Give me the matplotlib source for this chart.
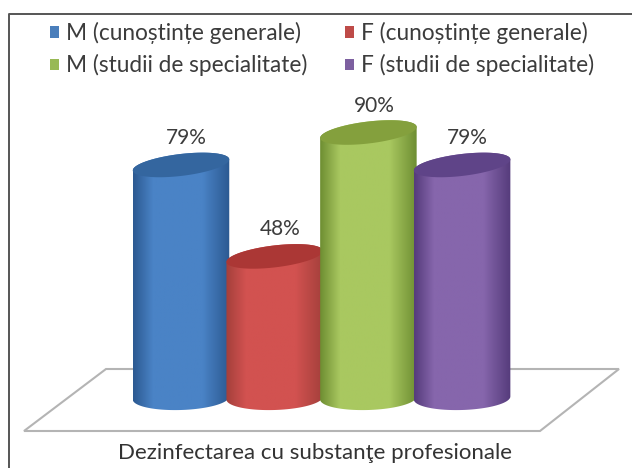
import numpy as np
import matplotlib
matplotlib.use('Agg')
import matplotlib.pyplot as plt
from matplotlib.patches import Patch, PathPatch, Polygon
from matplotlib.path import Path
from matplotlib.lines import Line2D
from matplotlib.colors import LinearSegmentedColormap

series = ['M (cunoștințe generale)', 'F (cunoștințe generale)',
          'M (studii de specialitate)', 'F (studii de specialitate)']
values = [79, 48, 90, 79]
value_labels = ['79%', '48%', '90%', '79%']
category = 'Dezinfectarea cu substanţe profesionale'

legend_colors = ['#4a7ebb', '#be4b48', '#98b954', '#7d60a0']
edge_colors = ['#2c5a92', '#a5403c', '#6f8f33', '#563c7c']
mid_colors = ['#4a83c6', '#d25250', '#a9c860', '#8666ac']
top_colors = ['#34669f', '#ab3735', '#84a03d', '#5f4488']

W, H = 632, 468
px_per_cat = 93.7
px_per_pct = 2.95
x0_px, y0_px = 181, 398   # where category slot 0 / value 0 land

plt.rcParams['font.family'] = ['Lato', 'DejaVu Sans']
fig = plt.figure(figsize=(W / 100, H / 100), dpi=100, facecolor='white')
ax = fig.add_axes([0, 0, 1, 1])
ax.set_xlim(-x0_px / px_per_cat, (W - x0_px) / px_per_cat)
ax.set_ylim((y0_px - H) / px_per_pct, y0_px / px_per_pct)
ax.axis('off')


def fig_xy(pts):
    return [(x / W, 1 - y / H) for x, y in pts]


# outer frame (runs off the right and bottom of the page)
fig.add_artist(Line2D([9 / W, 9 / W, 1], [0, 1 - 14 / H, 1 - 14 / H], color='#555555', lw=1.4))

# floor
ax.add_patch(Polygon(fig_xy([(106, 369), (619, 369), (540, 431), (24, 431)]),
                     closed=True, transform=fig.transFigure,
                     facecolor='white', edgecolor='#b4b4b4', lw=1.5, zorder=1))

half_w = 0.515
top_b = 11 / px_per_pct
top_tilt = 5.5 / px_per_pct
bot_b = 12 / px_per_pct
bot_tilt = 1.5 / px_per_pct
t = np.linspace(0, 2 * np.pi, 121)

for i, v in enumerate(values):
    z = 2 + i
    # body: over the back of the top ellipse, then round the front of the base
    top_x = i + half_w * np.cos(t)
    top_y = v + top_b * np.sin(t) + top_tilt * np.cos(t)
    upper = t[:61]
    lower = t[60:]
    bx = np.r_[i + half_w * np.cos(upper), i + half_w * np.cos(lower)]
    by = np.r_[v + top_b * np.sin(upper) + top_tilt * np.cos(upper),
               bot_b * np.sin(lower) + bot_tilt * np.cos(lower)]
    body = PathPatch(Path(np.c_[bx, by]), facecolor='none', edgecolor='none', zorder=z)
    ax.add_patch(body)
    cmap = LinearSegmentedColormap.from_list('c%d' % i, [(0, edge_colors[i]), (0.2, mid_colors[i]),
                                                         (0.72, mid_colors[i]), (1, edge_colors[i])])
    im = ax.imshow(np.linspace(0, 1, 64)[None, :], cmap=cmap, aspect='auto', zorder=z,
                   extent=[i - half_w, i + half_w, -10, v + 10], interpolation='bilinear')
    im.set_clip_path(body)
    ax.fill(top_x, top_y, color=top_colors[i], lw=0, zorder=z + 0.5)
    ax.annotate(value_labels[i], (i, v), xytext=(4, 27 * 0.72), textcoords='offset points',
                ha='center', va='center', fontsize=15, color='#3c3c3c', zorder=10)

ax.set_xlim(-x0_px / px_per_cat, (W - x0_px) / px_per_cat)
ax.set_ylim((y0_px - H) / px_per_pct, y0_px / px_per_pct)

ax.text(1.43, (y0_px - 453) / px_per_pct, category, ha='center', va='center',
        fontsize=16, color='#333333')

# legend fills column by column, the picture reads row by row
order = [0, 2, 1, 3]
handles = [Patch(facecolor=legend_colors[k], edgecolor='none') for k in order]
ax.legend(handles, [series[k] for k in order], ncol=2, loc='upper left',
          bbox_to_anchor=(50 / W, 1 - 22 / H),
          frameon=False, fontsize=16.3, labelcolor='#3c3c3c', handlelength=0.4, handleheight=0.4,
          handletextpad=0.3, columnspacing=1.68, labelspacing=0.45, borderpad=0, borderaxespad=0)

fig.savefig('out.png', dpi=100, facecolor='white')
